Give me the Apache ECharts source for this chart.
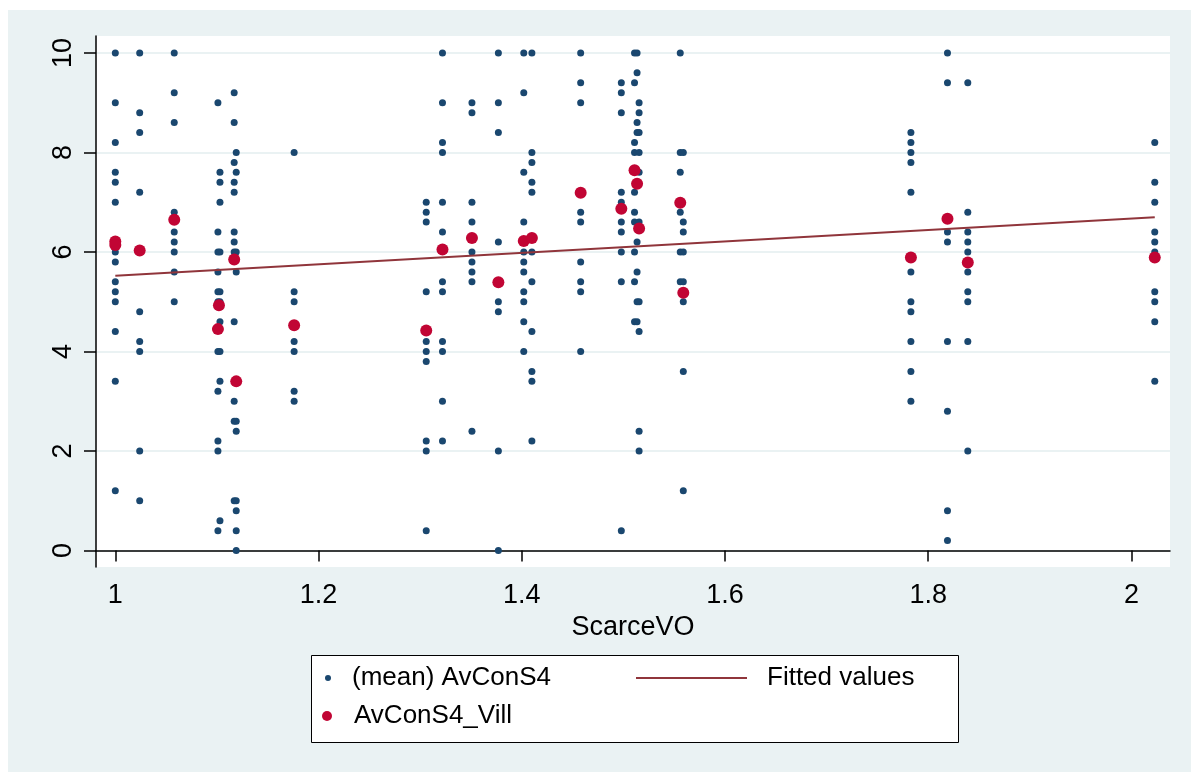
<!DOCTYPE html>
<html>
<head>
<meta charset="utf-8">
<script src="https://cdn.jsdelivr.net/npm/echarts@6/dist/echarts.min.js"></script>
<style>
html, body { margin: 0; padding: 0; background: #fff; }
#chart { width: 1199px; height: 772px; }
</style>
</head>
<body>
<div id="chart"></div>
<script>
// household values, one column per village (x = ScarceVO)
const colX = [1.000, 1.024, 1.058, 1.101, 1.103, 1.117, 1.119, 1.176, 1.306, 1.322, 1.351, 1.377, 1.402,
  1.410, 1.458, 1.498, 1.511, 1.5135, 1.5155, 1.556, 1.559, 1.783, 1.819, 1.839, 2.023];
const colValues = [
  [10, 9, 8.2, 7.6, 7.4, 7, 6.2, 6, 5.8, 5.4, 5.2, 5, 4.4, 3.4, 1.2],
  [10, 8.8, 8.4, 7.2, 6, 4.8, 4.2, 4, 2, 1],
  [10, 9.2, 8.6, 6.8, 6.4, 6.2, 6, 5.6, 5],
  [9, 6.4, 6, 5.6, 5.2, 5, 4, 3.2, 2.2, 2, 0.4],
  [7.6, 7.4, 7, 6, 5.2, 5, 4.6, 4, 3.4, 0.6],
  [9.2, 8.6, 7.8, 7.4, 7.2, 6.4, 6.2, 6, 4.6, 3, 2.6, 1],
  [8, 7.6, 6, 5.6, 2.6, 2.4, 1, 0.8, 0.4, 0],
  [8, 5.2, 5, 4.2, 4, 3.2, 3],
  [7, 6.8, 6.6, 5.2, 4.2, 4, 3.8, 2.2, 2, 0.4],
  [10, 9, 8.2, 8, 7, 6.4, 5.4, 5.2, 4.2, 4, 3, 2.2],
  [9, 8.8, 7, 6.6, 6, 5.8, 5.6, 5.4, 2.4],
  [10, 9, 8.4, 6.2, 5, 4.8, 2, 0],
  [10, 9.2, 7.6, 6.6, 6, 5.8, 5.6, 5.2, 5, 4.6, 4],
  [10, 8, 7.8, 7.4, 7.2, 6, 5.4, 4.4, 3.6, 3.4, 2.2],
  [10, 9.4, 9, 6.8, 6.6, 5.8, 5.4, 5.2, 4],
  [9.4, 9.2, 8.8, 7.2, 7, 6.6, 6.4, 6, 5.4, 0.4],
  [10, 9.4, 8.2, 8, 7.2, 6.8, 6.6, 6, 5.4, 4.6],
  [10, 9.6, 8.6, 8.4, 6.2, 5.6, 5, 4.6],
  [9, 8.8, 8.4, 8, 7.6, 6.6, 5, 4.4, 2.4, 2],
  [10, 8, 7.6, 6.8, 6, 5.4],
  [8, 6.6, 6.4, 6, 5.4, 5, 3.6, 1.2],
  [8.4, 8.2, 8, 7.8, 7.2, 5.6, 5, 4.8, 4.2, 3.6, 3],
  [10, 9.4, 6.4, 6.2, 4.2, 2.8, 0.8, 0.2],
  [9.4, 6.8, 6.4, 6.2, 6, 5.6, 5.2, 5, 4.2, 2],
  [8.2, 7.4, 7, 6.4, 6.2, 6, 5.2, 5, 4.6, 3.4]
];

// village means (AvConS4_Vill)
const villX = [1.000, 1.000, 1.024, 1.058, 1.102, 1.101, 1.117, 1.119, 1.176, 1.306, 1.322, 1.351, 1.377,
  1.402, 1.410, 1.458, 1.498, 1.511, 1.5135, 1.5155, 1.556, 1.559, 1.783, 1.819, 1.839, 2.023];
const villY = [6.21, 6.14, 6.03, 6.65, 4.93, 4.45, 5.85, 3.4, 4.53, 4.42, 6.05, 6.28, 5.39,
  6.22, 6.28, 7.19, 6.87, 7.64, 7.37, 6.47, 6.99, 5.18, 5.89, 6.67, 5.79, 5.89];

// fitted values (end points of the linear fit)
const fitX = [1.0, 2.023];
const fitY = [5.52, 6.70];

const xTicks = [1, 1.2, 1.4, 1.6, 1.8, 2];
const yTicks = [0, 2, 4, 6, 8, 10];

const font = 'Liberation Sans, Arial, sans-serif';

const hhPoints = [];
colX.forEach((x, i) => colValues[i].forEach(v => hhPoints.push([x, v])));
const villPoints = villX.map((x, i) => [x, villY[i]]);
const fitPoints = fitX.map((x, i) => [x, fitY[i]]);

const legendText = pad => ({ fontFamily: font, fontSize: 26, color: '#000', padding: [0, 0, 0, pad] });

const chart = echarts.init(document.getElementById('chart'), null, { renderer: 'canvas' });
chart.setOption({
  animation: false,
  backgroundColor: '#EAF2F3',
  graphic: [
    // white export margins
    { type: 'rect', left: 0, top: 0, shape: { width: 1199, height: 10 }, style: { fill: '#fff' } },
    { type: 'rect', left: 0, top: 0, shape: { width: 8, height: 772 }, style: { fill: '#fff' } },
    { type: 'rect', left: 1191, top: 0, shape: { width: 8, height: 772 }, style: { fill: '#fff' } },
    // legend box
    { type: 'rect', left: 311, top: 655, shape: { width: 647, height: 87 },
      style: { fill: '#fff', stroke: '#000', lineWidth: 1 } }
  ],
  grid: {
    left: 96, right: 29, top: 36, bottom: 205,
    show: true, backgroundColor: '#fff', borderWidth: 0
  },
  xAxis: {
    type: 'value',
    min: 0.981, max: 2.038,
    name: 'ScarceVO',
    nameLocation: 'middle',
    nameGap: 42,
    nameTextStyle: { fontFamily: font, fontSize: 27, color: '#000' },
    axisLine: { lineStyle: { color: '#000', width: 1.5 } },
    axisTick: { length: 11, lineStyle: { color: '#000', width: 1.5 }, customValues: xTicks },
    axisLabel: {
      customValues: xTicks,
      margin: 15,
      fontFamily: font, fontSize: 27, color: '#000',
      formatter: v => String(Math.round(v * 10) / 10)
    },
    splitLine: { show: false }
  },
  yAxis: {
    type: 'value',
    min: -0.33, max: 10.34,
    axisLine: { show: true, lineStyle: { color: '#000', width: 1.5 } },
    axisTick: { show: true, length: 12, lineStyle: { color: '#000', width: 1.5 }, customValues: yTicks },
    axisLabel: {
      customValues: yTicks,
      rotate: 90,
      margin: 19,
      fontFamily: font, fontSize: 27, color: '#000',
      formatter: v => String(Math.round(v))
    },
    splitLine: { show: true, lineStyle: { color: '#EAF2F3', width: 2 } }
  },
  legend: [
    {
      data: [{ name: '(mean) AvConS4', icon: 'circle' }],
      left: 325, top: 665, itemWidth: 30, itemHeight: 6,
      padding: 0, selectedMode: false, textStyle: legendText(4)
    },
    {
      data: [{ name: 'Fitted values', icon: 'rect' }],
      left: 636, top: 665, itemWidth: 111, itemHeight: 2,
      padding: 0, selectedMode: false, textStyle: legendText(15)
    },
    {
      data: [{ name: 'AvConS4_Vill', icon: 'circle' }],
      left: 322, top: 703, itemWidth: 30, itemHeight: 10,
      padding: 0, selectedMode: false, textStyle: legendText(7)
    }
  ],
  series: [
    {
      name: '(mean) AvConS4',
      type: 'scatter',
      data: hhPoints,
      symbolSize: 7,
      itemStyle: { color: '#1A476F', opacity: 1 },
      z: 2
    },
    {
      name: 'Fitted values',
      type: 'line',
      data: fitPoints,
      symbol: 'none',
      color: '#90353B',
      lineStyle: { color: '#90353B', width: 2 },
      z: 3
    },
    {
      name: 'AvConS4_Vill',
      type: 'scatter',
      data: villPoints,
      symbolSize: 12,
      itemStyle: { color: '#C10534', opacity: 1 },
      z: 4
    }
  ]
});
</script>
</body>
</html>
